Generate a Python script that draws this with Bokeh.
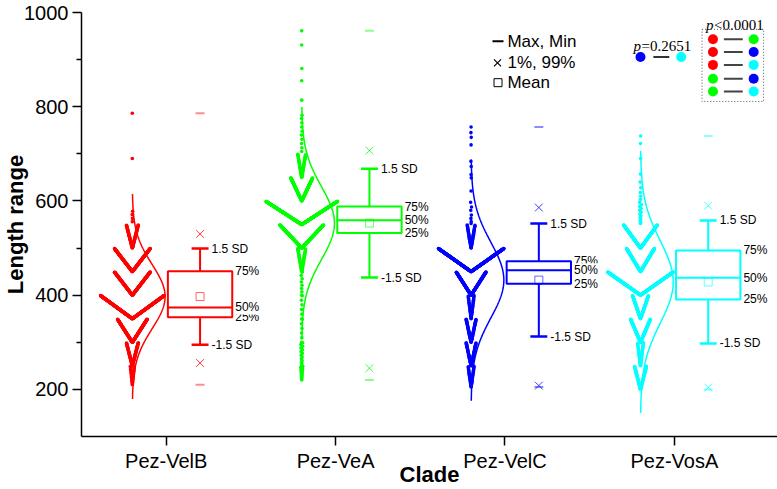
import numpy as np
from bokeh.plotting import figure
from bokeh.models import FixedTicker, Range1d
from bokeh.core.properties import value
from bokeh.embed import file_html
from bokeh.resources import INLINE

# ---------------- data ----------------
clades = ["Pez-VelB", "Pez-VeA", "Pez-VelC", "Pez-VosA"]
colors = ["#FF0000", "#00FF00", "#0000FF", "#00FFFF"]

q1     = [353, 532, 424, 391]
median = [374, 559, 453, 437]
q3     = [451, 588, 472, 495]
mean   = [397, 553, 432, 428]
sd     = [68, 77, 80, 87]
p01    = [256, 245, 208, 204]
p99    = [530, 707, 586, 590]
vmin   = [210, 220, 205, 200]
vmax   = [786, 961, 757, 738]

# dense part of each distribution: number of points per 50-wide bin
bin_low     = [200, 250, 300, 350, 400, 450, 500, 550, 600, 650]
velb_counts = [27, 80, 200, 427, 240, 240, 80, 0, 0, 0]
vea_counts  = [14, 14, 6, 6, 8, 53, 293, 480, 147, 53]
velc_counts = [40, 67, 67, 40, 200, 440, 53, 0, 0, 0]
vosa_counts = [80, 40, 133, 107, 440, 187, 227, 0, 0, 0]

# isolated points
velb_sparse = [556, 563, 571, 578, 690, 786]
vea_sparse  = [705, 713, 722, 731, 740, 748, 757, 766, 775, 782, 814, 855, 881, 931, 961]
velc_sparse = [552, 556, 563, 570, 580, 587, 597, 621, 649, 656, 673, 684, 719, 735, 745, 757]
vosa_sparse = [552, 555, 558, 561, 565, 568, 572, 576, 580, 584, 588, 592, 597, 603, 610,
               618, 628, 640, 657, 690, 722, 738]

all_counts = [velb_counts, vea_counts, velc_counts, vosa_counts]
all_sparse = [velb_sparse, vea_sparse, velc_sparse, vosa_sparse]

p_text_pair = "0.2651"
p_text_all = "0.0001"
pair_rows = [(0, 1), (0, 2), (0, 3), (1, 2), (1, 3)]

# ---------------- layout ----------------
W, H = 777, 489
ML, MR, MT, MB = 76, 0, 12, 48
PX_X = 170.6
frame_w = W - ML - MR
frame_h = H - MT - MB
X0 = 0.5
X1 = X0 + frame_w / PX_X
Y0, Y1 = 100, 1000
PX_Y = frame_h / (Y1 - Y0)

def sx2x(sx):  # canvas px -> data x
    return X0 + (sx - ML) / PX_X

def sy2y(sy):  # canvas px -> data y
    return Y1 - (sy - MT) / PX_Y

p = figure(width=W, height=H, output_backend="svg", toolbar_location=None,
           x_range=Range1d(X0, X1), y_range=Range1d(Y0, Y1),
           min_border_left=ML, min_border_right=MR, min_border_top=MT,
           min_border_bottom=MB)
p.outline_line_color = None
p.xgrid.visible = False
p.ygrid.visible = False
p.background_fill_color = "white"
p.border_fill_color = "white"

FONT = "Liberation Sans"
for ax in (p.xaxis[0], p.yaxis[0]):
    ax.axis_line_width = 1.5
    ax.axis_line_color = "black"
    ax.major_tick_line_width = 1.5
    ax.minor_tick_line_width = 1.5
    ax.major_tick_in = 0
    ax.major_tick_out = 9
    ax.minor_tick_in = 0
    ax.minor_tick_out = 5
    ax.major_label_text_font = FONT
    ax.major_label_text_font_size = "20px"
    ax.major_label_text_color = "black"
    ax.major_label_standoff = 4
    ax.axis_label_text_font = FONT
    ax.axis_label_text_font_style = "bold"
    ax.axis_label_text_font_size = "22px"
    ax.axis_label_text_color = "black"

p.yaxis[0].ticker = FixedTicker(ticks=[200, 400, 600, 800, 1000],
                                minor_ticks=[300, 500, 700, 900])
p.xaxis[0].ticker = FixedTicker(ticks=[1, 2, 3, 4], minor_ticks=[])
p.xaxis[0].major_label_overrides = {i + 1: c for i, c in enumerate(clades)}
p.yaxis[0].axis_label = "Length range"
p.yaxis[0].axis_label_standoff = -7
p.xaxis[0].axis_label = "Clade"
p.xaxis[0].axis_label_standoff = -13

# ---------------- scatter (binned swarm) ----------------
STEP = 0.15 / PX_X       # horizontal spacing between neighbouring ranks
SWARM_OFF = -0.20
BOX_OFF = 0.20
BOX_HALF = 0.19
CAP_HALF = 0.05
CURVE_AMP = 33 / PX_X

for g in range(4):
    vals = []
    for low, n in zip(bin_low, all_counts[g]):
        if n > 0:
            lo = max(low, vmin[g])
            vals.extend(np.linspace(lo, low + 49, n).tolist())
    vals.extend(all_sparse[g])
    vals = np.sort(np.array(vals, dtype=float))
    bins = np.floor(vals / 50).astype(int)
    cx = g + 1 + SWARM_OFF
    xs, ys = [], []
    for b in np.unique(bins):
        v = vals[bins == b]
        for i, val in enumerate(v):
            k = (i + 1) // 2
            sgn = 1 if i % 2 == 1 else -1
            xs.append(cx + sgn * k * STEP)
            ys.append(val)
    p.scatter(xs, ys, size=3.6, marker="circle", fill_color=colors[g],
              line_color=colors[g], line_width=0)

    # normal curve
    yc = np.linspace(mean[g] - 3.2 * sd[g], mean[g] + 3.2 * sd[g], 300)
    xc = cx + CURVE_AMP * np.exp(-0.5 * ((yc - mean[g]) / sd[g]) ** 2)
    p.line(xc, yc, line_color=colors[g], line_width=1.5)

# ---------------- boxes ----------------
for g in range(4):
    c = colors[g]
    bx = g + 1 + BOX_OFF
    up = mean[g] + 1.5 * sd[g]
    lo = mean[g] - 1.5 * sd[g]
    p.quad(left=[bx - BOX_HALF], right=[bx + BOX_HALF], bottom=[q1[g]], top=[q3[g]],
           fill_color=None, line_color=c, line_width=2)
    p.segment(x0=[bx - BOX_HALF], x1=[bx + BOX_HALF], y0=[median[g]], y1=[median[g]],
              line_color=c, line_width=2)
    p.segment(x0=[bx, bx], x1=[bx, bx], y0=[q3[g], q1[g]], y1=[up, lo],
              line_color=c, line_width=2)
    p.segment(x0=[bx - CAP_HALF, bx - CAP_HALF], x1=[bx + CAP_HALF, bx + CAP_HALF],
              y0=[up, lo], y1=[up, lo], line_color=c, line_width=2.5)
    p.scatter([bx], [mean[g]], marker="square", size=8, fill_color=None,
              line_color=c, line_width=1, line_alpha=0.6)
    p.scatter([bx, bx], [p01[g], p99[g]], marker="x", size=11, line_color=c,
              line_width=1, line_alpha=0.75)
    p.scatter([bx, bx], [vmin[g], vmax[g]], marker="dash", size=9, line_color=c,
              line_width=2, line_alpha=0.45)

    tkw = dict(text_font=value(FONT), text_font_size="12px", text_color="black",
               text_baseline="middle", text_align="left")
    p.text(x=[bx + CAP_HALF, bx + CAP_HALF], y=[up, lo], text=["1.5 SD", "-1.5 SD"],
           x_offset=3, **tkw)
    for lab, yv in (("75%", q3[g]), ("25%", q1[g]), ("50%", median[g])):
        p.text(x=[bx + BOX_HALF], y=[yv], text=[lab], x_offset=3,
               background_fill_color="white", **tkw)

# ---------------- legend (top) ----------------
lkw = dict(text_font=value(FONT), text_font_size="17px", text_color="black",
           text_baseline="middle", text_align="left")
p.scatter([sx2x(495.5)], [sy2y(41)], marker="dash", size=11, line_color="black", line_width=2)
p.text(x=[sx2x(505)], y=[sy2y(41)], text=["Max, Min"], **lkw)
p.scatter([sx2x(495)], [sy2y(63)], marker="x", size=10, line_color="black", line_width=1.2)
p.text(x=[sx2x(505)], y=[sy2y(63)], text=["1%, 99%"], **lkw)
p.scatter([sx2x(495.5)], [sy2y(83)], marker="square", size=8, fill_color=None,
          line_color="black", line_width=1)
p.text(x=[sx2x(505)], y=[sy2y(83)], text=["Mean"], **lkw)

SERIF = "Liberation Serif"
skw = dict(text_font=value(SERIF), text_font_size="15px", text_color="black",
           text_baseline="alphabetic", text_align="left")
p.text(x=[sx2x(632)], y=[sy2y(46)], text=["p"], text_font_style="italic", **skw)
p.text(x=[sx2x(640)], y=[sy2y(46)], text=["=" + p_text_pair], **skw)
p.scatter([sx2x(639), sx2x(680)], [sy2y(57), sy2y(57)], marker="circle", size=10,
          fill_color=[colors[2], colors[3]], line_color=None)
p.segment(x0=[sx2x(652)], x1=[sx2x(668)], y0=[sy2y(57)], y1=[sy2y(57)],
          line_color="#333333", line_width=2)

p.text(x=[sx2x(705)], y=[sy2y(25)], text=["p"], text_font_style="italic", **skw)
p.text(x=[sx2x(713)], y=[sy2y(25)], text=["<" + p_text_all], **skw)
p.quad(left=[sx2x(701)], right=[sx2x(763)], top=[sy2y(29)], bottom=[sy2y(102)],
       fill_color=None, line_color="#555555", line_width=1, line_dash="1 2")
row_y = [39, 52, 65, 79, 92]
for (a, b), ry in zip(pair_rows, row_y):
    p.scatter([sx2x(712), sx2x(753)], [sy2y(ry), sy2y(ry)], marker="circle", size=10,
              fill_color=[colors[a], colors[b]], line_color=None)
    p.segment(x0=[sx2x(723)], x1=[sx2x(742)], y0=[sy2y(ry)], y1=[sy2y(ry)],
              line_color="#444444", line_width=2)

open("out.html", "w").write(file_html(p, INLINE))
